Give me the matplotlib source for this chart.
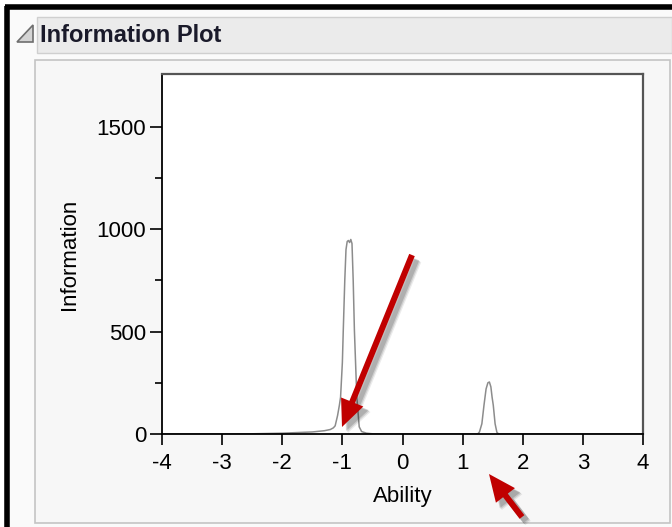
import numpy as np
import matplotlib.pyplot as plt
from matplotlib.patches import Rectangle, FancyArrow, Polygon

plt.rcParams['font.family'] = ['Liberation Sans', 'DejaVu Sans']

# information curve
ability = [-4.0, -3.0, -2.5, -2.0, -1.5, -1.3, -1.2, -1.15, -1.12, -1.08,
           -1.05, -1.03, -1.0, -0.985, -0.96, -0.94, -0.92, -0.9, -0.88,
           -0.86, -0.84, -0.82, -0.8, -0.76, -0.72, -0.68, -0.6, -0.5, -0.3,
           1.25, 1.28, 1.32, 1.355, 1.39, 1.42, 1.445, 1.47, 1.49, 1.51, 1.54,
           1.57, 1.6, 4.0]
information = [0, 0, 1, 4, 10, 16, 22, 30, 40, 90,
               140, 180, 350, 507, 750, 900, 940, 945, 935,
               950, 930, 750, 507, 180, 35, 12, 4, 1, 0,
               0, 10, 50, 140, 220, 250, 254, 230, 180, 140, 50,
               8, 0, 0]

xticks = [-4, -3, -2, -1, 0, 1, 2, 3, 4]
yticks = [0, 500, 1000, 1500]
yminor = [250, 750, 1250]

W, H = 672, 527
fig = plt.figure(figsize=(W / 100, H / 100), dpi=100)
fig.patch.set_facecolor('white')

# background frame (pixel coordinates)
bg = fig.add_axes([0, 0, 1, 1], zorder=0)
bg.set_xlim(0, W)
bg.set_ylim(H, 0)
bg.axis('off')
bg.add_patch(Rectangle((4, 4), W, H, facecolor='#fafafa', edgecolor='none'))
bg.plot([7, 7], [6, H], color='black', lw=4, solid_capstyle='butt')
bg.plot([5, W], [7, 7], color='black', lw=4, solid_capstyle='butt')
bg.add_patch(Rectangle((37, 17), W - 37, 36, facecolor='#ebebeb',
                       edgecolor='#cfcfcf', lw=1))
bg.add_patch(Polygon([(17, 42), (33, 42), (33, 25)], closed=True,
                     facecolor='#d4d4d4', edgecolor='#6e6e6e', lw=1.2))
bg.text(40, 35, 'Information Plot', fontsize=17, fontweight='bold',
        color='#1a1a2a', va='center', ha='left')
bg.add_patch(Rectangle((35, 60), 635, 463, facecolor='#f7f7f7',
                       edgecolor='#c4c4c4', lw=1.2))

# main plot
ax = fig.add_axes([162 / W, 1 - 434 / H, (643 - 162) / W, (434 - 74) / H], zorder=1)
ax.set_facecolor('white')
ax.plot(ability, information, color='#8c8c8c', lw=1.1)
ax.set_xlim(-4, 4)
ax.set_ylim(0, 1758)
ax.set_xticks(xticks)
ax.set_xticklabels([str(t) for t in xticks])
ax.set_yticks(yticks)
ax.set_yticks(yminor, minor=True)
ax.tick_params(axis='x', direction='out', length=8, width=1.2, pad=6,
               labelsize=16, colors='black')
ax.tick_params(axis='y', which='major', direction='out', length=8.5, width=1.2,
               pad=3, labelsize=16)
ax.tick_params(axis='y', which='minor', direction='out', length=5, width=1.2)
for s in ['left', 'bottom']:
    ax.spines[s].set_color('black')
    ax.spines[s].set_linewidth(1.3)
for s in ['top', 'right']:
    ax.spines[s].set_color('#555555')
    ax.spines[s].set_linewidth(1.6)
ax.set_xlabel('Ability', fontsize=16, labelpad=8)
ax.set_ylabel('Information', fontsize=16, labelpad=12)

# red arrows with soft shadow (pixel coordinates)
ov = fig.add_axes([0, 0, 1, 1], zorder=3)
ov.set_xlim(0, W)
ov.set_ylim(H, 0)
ov.axis('off')
ov.patch.set_alpha(0)


def arrow(x0, y0, x1, y1):
    dx, dy = x1 - x0, y1 - y0
    for off, a in [(6, 0.08), (5, 0.12), (4, 0.15)]:
        ov.add_patch(FancyArrow(x0 + off, y0 + off, dx, dy, width=7,
                                head_width=26, head_length=28,
                                length_includes_head=True, color='black',
                                alpha=a, lw=0))
    ov.add_patch(FancyArrow(x0, y0, dx, dy, width=6, head_width=24,
                            head_length=27, length_includes_head=True,
                            color='#c00000', lw=0))


arrow(412, 255, 342, 427)
arrow(522, 517, 489, 474)

fig.savefig('out.png', dpi=100)
